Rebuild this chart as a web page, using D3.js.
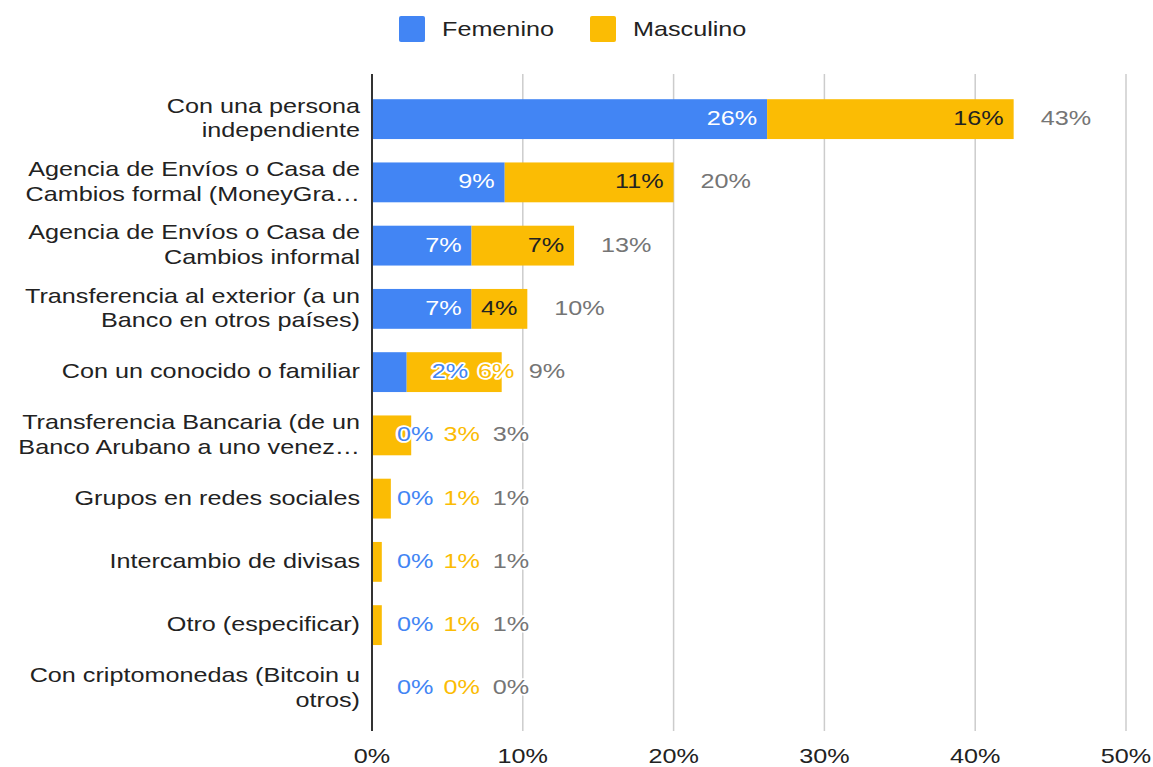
<!DOCTYPE html>
<html>
<head>
<meta charset="utf-8">
<script src="https://cdn.jsdelivr.net/npm/d3@7"></script>
<style>
    body { margin: 0; background: #fff; }
    svg { font-family: "Liberation Sans", Arial, sans-serif; }
</style>
</head>
<body>
<div id="chart"></div>
<script>
const categories = [
    "Con una persona\nindependiente",
    "Agencia de Envíos o Casa de\nCambios formal (MoneyGra…",
    "Agencia de Envíos o Casa de\nCambios informal",
    "Transferencia al exterior (a un\nBanco en otros países)",
    "Con un conocido o familiar",
    "Transferencia Bancaria (de un\nBanco Arubano a uno venez…",
    "Grupos en redes sociales",
    "Intercambio de divisas",
    "Otro (especificar)",
    "Con criptomonedas (Bitcoin u\notros)"
];
const femenino = [26.2, 8.8, 6.6, 6.6, 2.3, 0, 0, 0, 0, 0];
const masculino = [16.35, 11.2, 6.8, 3.7, 6.3, 2.6, 1.25, 0.65, 0.65, 0];
const seriesNames = ["Femenino", "Masculino"];
const xTicks = [0, 10, 20, 30, 40, 50];

const chartWidth = 1153, chartHeight = 767;
const colors = { Femenino: "#4285f4", Masculino: "#fbbc04" };
const insideText = { Femenino: "#ffffff", Masculino: "#222222" };
const totalColor = "#757575";
// the text in the picture is a little wider than the font draws it
const stretch = 1.26;
const fontSize = 20;

const rows = categories.map((c, i) => ({
    name: c,
    values: [femenino[i], masculino[i]],
    total: femenino[i] + masculino[i]
}));

const fmt = v => `${Math.round(v)}%`;

const addText = (parent, px, py, str, anchor = "start") =>
    parent.append("text")
        .attr("transform", `translate(${px},${py}) scale(${stretch},1)`)
        .attr("text-anchor", anchor)
        .attr("font-size", fontSize)
        .text(str);

const haloed = sel => sel
    .attr("stroke", "#fff")
    .attr("stroke-width", 3.5)
    .attr("stroke-linejoin", "round")
    .attr("paint-order", "stroke");

const renderChart = () => {
    const svg = d3.select("#chart").append("svg")
        .attr("width", chartWidth)
        .attr("height", chartHeight);

    const x = d3.scaleLinear().domain([0, 50]).range([372, 1126]);
    const y = d3.scaleBand()
        .domain(categories)
        .range([87.5, 720])
        .paddingInner(0.37)
        .paddingOuter(0.185);

    // gridlines
    svg.append("g")
        .selectAll("line")
        .data(xTicks.filter(t => t > 0))
        .join("line")
        .attr("x1", d => x(d)).attr("x2", d => x(d))
        .attr("y1", 74).attr("y2", 731)
        .attr("stroke", "#cccccc")
        .attr("stroke-width", 1.5);

    // x axis labels
    const tickGroup = svg.append("g").attr("fill", "#222");
    xTicks.forEach(t => addText(tickGroup, x(t), 763, `${t}%`, "middle"));

    // category labels
    const catGroup = svg.append("g").attr("fill", "#222");
    categories.forEach(c => {
        const lines = c.split("\n");
        const cy = y(c) + y.bandwidth() / 2;
        lines.forEach((ln, k) => {
            addText(catGroup, 360, cy + 6 + (k - (lines.length - 1) / 2) * 24.5, ln, "end");
        });
    });

    // bars
    const barGroup = svg.append("g");
    rows.forEach(r => {
        let start = 0;
        r.values.forEach((v, k) => {
            if (v > 0) {
                barGroup.append("rect")
                    .attr("x", x(start))
                    .attr("y", y(r.name))
                    .attr("width", x(start + v) - x(start))
                    .attr("height", y.bandwidth())
                    .attr("fill", colors[seriesNames[k]]);
            }
            start += v;
        });
    });

    // axis line
    svg.append("line")
        .attr("x1", x(0)).attr("x2", x(0))
        .attr("y1", 74).attr("y2", 731)
        .attr("stroke", "#333")
        .attr("stroke-width", 2);

    // value labels
    const labelGroup = svg.append("g");
    const measure = str => {
        const t = addText(labelGroup, 0, 0, str);
        const w = t.node().getComputedTextLength() * stretch;
        t.remove();
        return w;
    };

    rows.forEach(r => {
        const cy = y(r.name) + y.bandwidth() / 2 + 6;
        let start = 0, prevEnd = -Infinity;
        r.values.forEach((v, k) => {
            const name = seriesNames[k];
            const str = fmt(v);
            const w = measure(str);
            const segStart = x(start), segEnd = x(start + v);
            const avail = segEnd - Math.max(segStart, prevEnd);
            if (avail >= w + 14) {
                addText(labelGroup, segEnd - 10, cy, str, "end")
                    .attr("fill", insideText[name]);
                prevEnd = segEnd;
            } else {
                const lx = prevEnd > segStart ? prevEnd + 10 : segEnd + 25;
                haloed(addText(labelGroup, lx, cy, str).attr("fill", colors[name]));
                prevEnd = lx + w;
            }
            start += v;
        });
        const tx = Math.max(x(r.total) + 27, prevEnd + 13);
        haloed(addText(labelGroup, tx, cy, fmt(r.total)).attr("fill", totalColor));
    });

    // legend
    const legend = svg.append("g");
    const legendX = [399, 590];
    seriesNames.forEach((n, i) => {
        legend.append("rect")
            .attr("x", legendX[i]).attr("y", 16)
            .attr("width", 26).attr("height", 26)
            .attr("rx", 2)
            .attr("fill", colors[n]);
        addText(legend, legendX[i] + 43, 36, n).attr("fill", "#222");
    });
};

document.addEventListener("DOMContentLoaded", renderChart);
</script>
</body>
</html>
